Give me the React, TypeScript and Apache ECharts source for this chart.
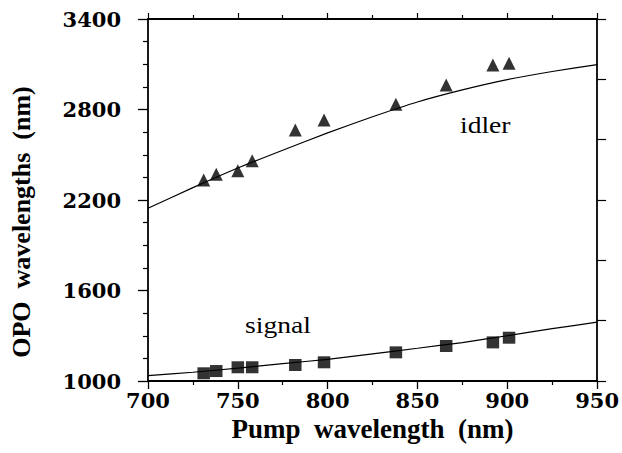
import React, { useEffect, useRef } from "react";
import * as echarts from "echarts";

// Measured points (pump wavelength, nm)
const pump = [731, 738, 750, 758, 782, 798, 838, 866, 892, 901];
const idler = [2333, 2370, 2394, 2461, 2664, 2730, 2834, 2962, 3095, 3106];
const signal = [1051, 1066, 1091, 1091, 1106, 1124, 1190, 1232, 1256, 1287];

// Calculated tuning curves
const fitPump = [700, 725, 750, 775, 800, 825, 850, 875, 900, 925, 950];
const fitIdler = [2145, 2282, 2412, 2530, 2645, 2752, 2850, 2930, 2998, 3052, 3098];
const fitSignal = [1035, 1058, 1085, 1115, 1144, 1180, 1217, 1255, 1300, 1347, 1390];

const xTitle = "Pump  wavelength  (nm)";
const yTitle = "OPO  wavelengths  (nm)";

const LBL = "'DejaVu Serif', serif";
const TTL = "'Liberation Serif', 'Times New Roman', serif";

export default function App() {
  const ref = useRef<HTMLDivElement>(null);
  useEffect(() => {
    document.body.style.margin = "0";
    if (!ref.current) return;
    const chart = echarts.init(ref.current, null, { renderer: "svg" });
    const axisLine = { show: true, lineStyle: { color: "#000", width: 1.8 } };
    const plain = (v: number) => String(v);
    chart.setOption({
      animation: false,
      backgroundColor: "#fff",
      grid: { left: 137, right: 24.5, top: 19, bottom: 72 },
      xAxis: [
        {
          type: "value",
          position: "bottom",
          min: 700,
          max: 950,
          interval: 50,
          axisLine,
          axisTick: { show: true, inside: false, length: 8, lineStyle: { color: "#000", width: 1.3 } },
          minorTick: { show: true, splitNumber: 2, length: 4, lineStyle: { color: "#000", width: 1.2 } },
          splitLine: { show: false },
          axisLabel: { color: "#000", fontFamily: LBL, fontWeight: "bold", fontSize: 21, margin: 9, formatter: plain },
          name: xTitle,
          nameLocation: "middle",
          nameGap: 31,
          nameTextStyle: { color: "#000", fontFamily: TTL, fontWeight: "bold", fontSize: 27 },
        },
        {
          type: "value",
          position: "top",
          min: 700,
          max: 950,
          interval: 50,
          axisLine,
          axisTick: { show: true, inside: false, length: 6, lineStyle: { color: "#000", width: 1.2 } },
          minorTick: { show: true, splitNumber: 2, length: 4, lineStyle: { color: "#000", width: 1.2 } },
          splitLine: { show: false },
          axisLabel: { show: false },
        },
      ],
      yAxis: [
        {
          type: "value",
          position: "left",
          min: 1000,
          max: 3400,
          interval: 600,
          axisLine,
          axisTick: { show: true, inside: false, length: 10, lineStyle: { color: "#000", width: 1.3 } },
          minorTick: { show: true, splitNumber: 4, length: 5, lineStyle: { color: "#000", width: 1.2 } },
          splitLine: { show: false },
          axisLabel: { color: "#000", fontFamily: LBL, fontWeight: "bold", fontSize: 21, margin: 27, formatter: plain },
          name: yTitle,
          nameLocation: "middle",
          nameGap: 114,
          nameTextStyle: { color: "#000", fontFamily: TTL, fontWeight: "bold", fontSize: 26, padding: [0, 44, 0, 0] },
        },
        {
          type: "value",
          position: "right",
          min: 1000,
          max: 3400,
          interval: 400,
          axisLine,
          axisTick: { show: true, inside: false, length: 9, lineStyle: { color: "#000", width: 1.2 } },
          splitLine: { show: false },
          axisLabel: { show: false },
        },
      ],
      series: [
        {
          type: "line",
          data: fitPump.map((p, i) => [p, fitIdler[i]]),
          showSymbol: false,
          smooth: 0.2,
          lineStyle: { color: "#000", width: 1.2 },
          silent: true,
        },
        {
          type: "line",
          data: fitPump.map((p, i) => [p, fitSignal[i]]),
          showSymbol: false,
          smooth: 0.2,
          lineStyle: { color: "#000", width: 1.2 },
          silent: true,
        },
        {
          type: "scatter",
          data: pump.map((p, i) => [p, idler[i]]),
          symbol: "triangle",
          symbolSize: [13, 13],
          itemStyle: { color: "#000" },
        },
        {
          type: "scatter",
          data: pump.map((p, i) => [p, signal[i]]),
          symbol: "rect",
          symbolSize: [12.5, 12],
          itemStyle: { color: "#000" },
        },
      ],
      graphic: [
        {
          type: "text",
          x: 460,
          y: 125,
          scaleX: 1.2,
          style: { text: "idler", fill: "#000", font: `23px ${TTL}`, textAlign: "left", textVerticalAlign: "middle" },
        },
        {
          type: "text",
          x: 245,
          y: 325,
          scaleX: 1.2,
          style: { text: "signal", fill: "#000", font: `23px ${TTL}`, textAlign: "left", textVerticalAlign: "middle" },
        },
      ],
    });
    return () => chart.dispose();
  }, []);
  return <div ref={ref} style={{ width: 622, height: 453 }} />;
}
